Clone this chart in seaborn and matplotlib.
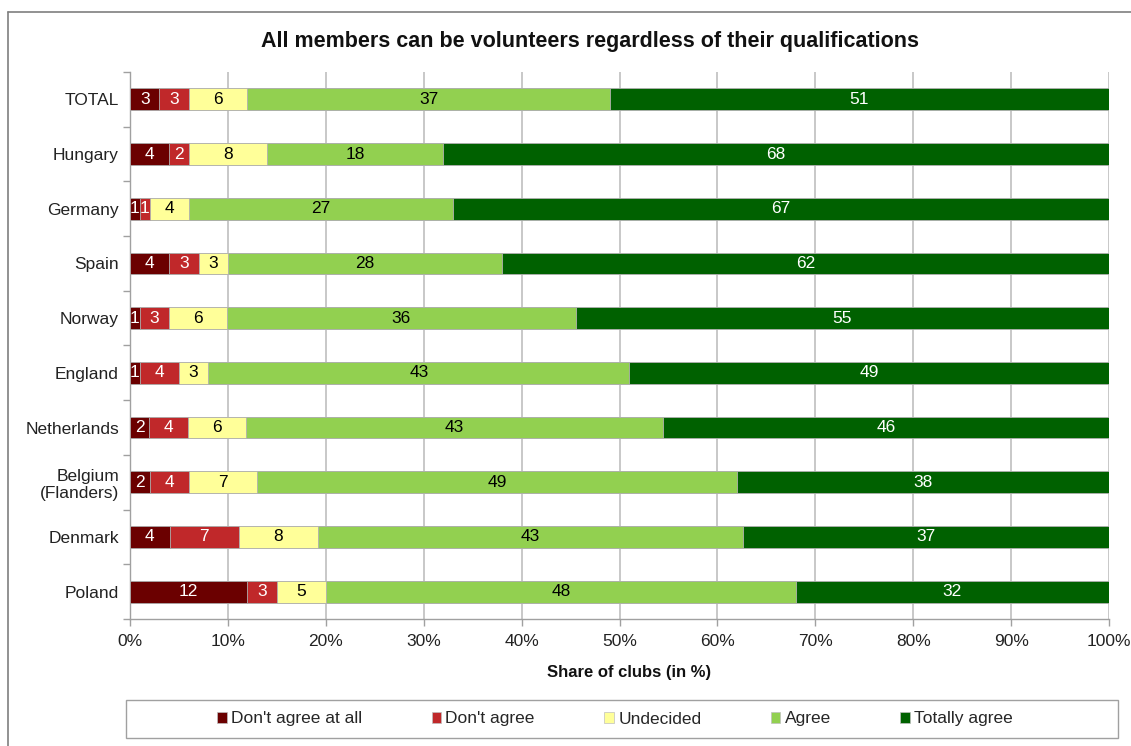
import matplotlib
matplotlib.use("Agg")
import matplotlib.pyplot as plt
from matplotlib.patches import Patch, Rectangle
from matplotlib.lines import Line2D
import numpy as np
import pandas as pd
import seaborn as sns

countries = ["TOTAL", "Hungary", "Germany", "Spain", "Norway", "England",
             "Netherlands", "Belgium\n(Flanders)", "Denmark", "Poland"]
categories = ["Don't agree at all", "Don't agree", "Undecided", "Agree", "Totally agree"]
dont_agree_at_all = [3, 4, 1, 4, 1, 1, 2, 2, 4, 12]
dont_agree = [3, 2, 1, 3, 3, 4, 4, 4, 7, 3]
undecided = [6, 8, 4, 3, 6, 3, 6, 7, 8, 5]
agree = [37, 18, 27, 28, 36, 43, 43, 49, 43, 48]
totally_agree = [51, 68, 67, 62, 55, 49, 46, 38, 37, 32]

colors = ["#6B0000", "#C0282A", "#FFFF99", "#92D050", "#006100"]
text_colors = ["white", "white", "black", "black", "white"]

sns.set_theme(style="white")
plt.rcParams["font.family"] = ["Liberation Sans", "DejaVu Sans"]

series = [dont_agree_at_all, dont_agree, undecided, agree, totally_agree]
vals = np.array(series, dtype=float)
shares = vals / vals.sum(axis=0) * 100  # 100% stacked
cum = np.cumsum(shares, axis=0)

W, H = 1131, 746
fig = plt.figure(figsize=(W / 100, H / 100), dpi=100)
ax = fig.add_axes([130 / W, 1 - 619 / H, 979 / W, 547 / H])

# outer frame (left and top edges visible)
fig.add_artist(Line2D([8 / W, 8 / W], [0, 1 - 12 / H], transform=fig.transFigure,
                      color="#7F7F7F", lw=1.2))
fig.add_artist(Line2D([8 / W, 1], [1 - 12 / H, 1 - 12 / H], transform=fig.transFigure,
                      color="#7F7F7F", lw=1.2))

# draw cumulative layers from the outermost to the innermost
for i in range(len(categories) - 1, -1, -1):
    df = pd.DataFrame({"country": countries, "cum": cum[i]})
    sns.barplot(data=df, x="cum", y="country", orient="h", color=colors[i],
                saturation=1, width=0.4, edgecolor="#B0B0B0", linewidth=0.6, ax=ax,
                zorder=3)

for i in range(len(categories)):
    left = cum[i] - shares[i]
    for j, c in enumerate(countries):
        ax.text(left[j] + shares[i][j] / 2, j, f"{int(vals[i][j])}", ha="center",
                va="center", fontsize=12.5, color=text_colors[i], zorder=5)

ax.set_xlim(0, 100)
ax.set_ylim(len(countries) - 0.5, -0.5)
ax.set_xticks(np.arange(0, 101, 10))
ax.set_xticklabels([f"{v}%" for v in range(0, 101, 10)], fontsize=12.5, color="#222222")
ax.set_yticks(range(len(countries)))
ax.set_yticklabels(countries, fontsize=12.5, color="#222222")
ax.set_yticks(np.arange(-0.5, len(countries) + 0.5, 1), minor=True)
ax.tick_params(axis="y", which="major", length=0, pad=8)
ax.tick_params(axis="y", which="minor", length=5, color="#A0A0A0", width=1, direction="out", left=True)
ax.tick_params(axis="x", which="major", length=5, color="#A0A0A0", width=1, direction="out",
               bottom=True, pad=6)
ax.xaxis.grid(True, color="#BFBFBF", lw=1.2, zorder=0)
ax.set_axisbelow(True)
for s in ["top", "right"]:
    ax.spines[s].set_visible(False)
for s in ["left", "bottom"]:
    ax.spines[s].set_color("#A0A0A0")
    ax.spines[s].set_linewidth(1)
ax.set_xlabel("")
ax.set_ylabel("")

fig.text(590 / W, 1 - 42 / H, "All members can be volunteers regardless of their qualifications",
         ha="center", va="center", fontsize=15.5, fontweight="bold", color="#111111")
fig.text(629 / W, 1 - 673 / H, "Share of clubs (in %)", ha="center", va="center",
         fontsize=12, fontweight="bold", color="#111111")

# legend box
fig.add_artist(Rectangle((126 / W, 1 - 738 / H), 992 / W, 38 / H, transform=fig.transFigure,
                         facecolor="white", edgecolor="#A0A0A0", lw=1, zorder=1))
handles = [Patch(facecolor=colors[i], edgecolor="#BFBFBF", lw=0.5) for i in range(len(categories))]
leg = fig.legend(handles, categories, loc="center", ncol=5,
                 bbox_to_anchor=(615 / W, 1 - 719 / H),
                 frameon=False, fontsize=12.5, handlelength=0.55,
                 handleheight=0.55, handletextpad=0.25, columnspacing=4.0)
leg.set_zorder(2)

fig.savefig("out.png", dpi=100)
